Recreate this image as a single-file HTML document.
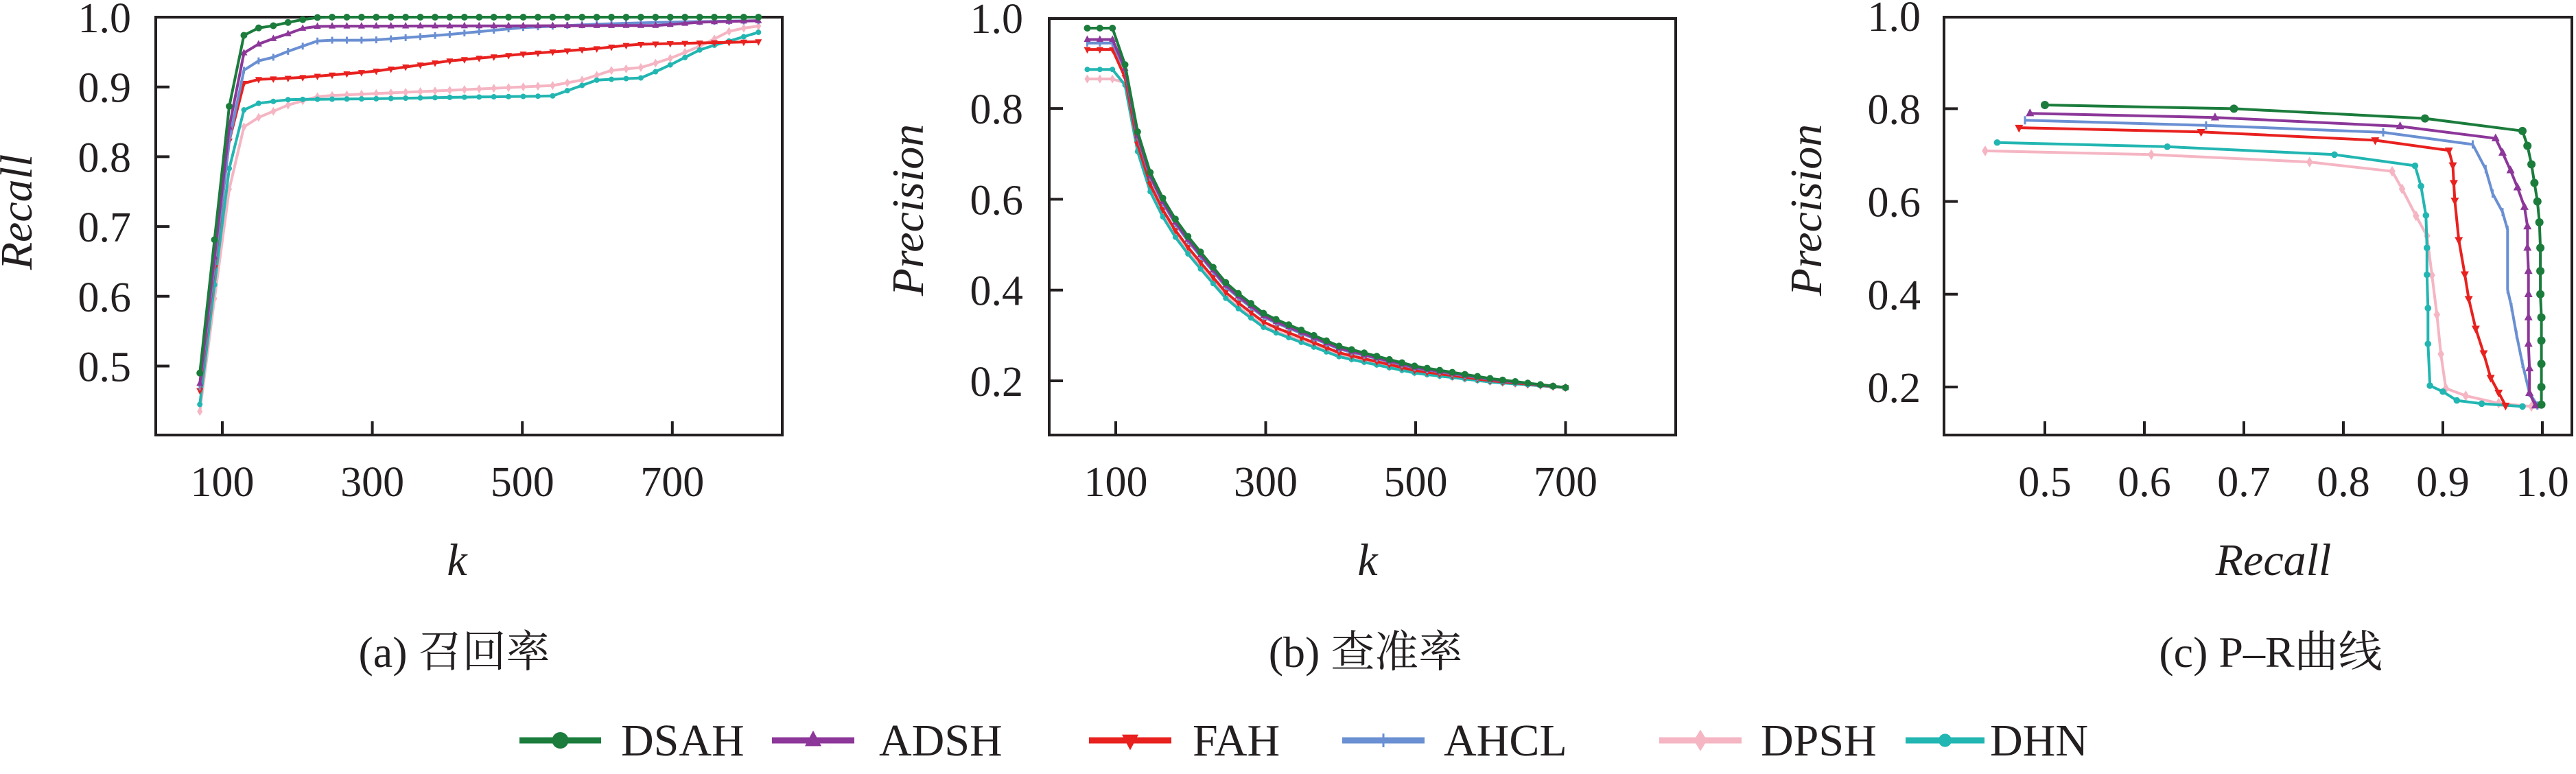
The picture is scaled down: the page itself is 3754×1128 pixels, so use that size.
<!DOCTYPE html>
<html><head><meta charset="utf-8"><style>
html,body{margin:0;padding:0;background:#fff;}
svg{display:block;}
svg text{font-family:'Liberation Serif','Tinos','Times New Roman','DejaVu Serif','Noto Serif CJK SC',serif;fill:#231f20;}
</style></head><body>
<svg id="s" width="3754" height="1128" viewBox="0 0 3754 1128" xmlns="http://www.w3.org/2000/svg"></svg>
<script>
var S=document.getElementById('s');var out='';
var FF="style=\"font-family:'Liberation Serif','Tinos','Times New Roman','DejaVu Serif','Noto Serif CJK SC',serif\" ";
var C={DSAH:'#1b7c3c',ADSH:'#8c3799',FAH:'#e8211f',AHCL:'#6a8fd2',DPSH:'#f5b5c3',DHN:'#22b6b2'};
var M={DSAH:'c',ADSH:'tu',FAH:'td',AHCL:'p',DPSH:'d',DHN:'st'};
function mk(t,x,y,r,c){
 if(t=='c')return '<circle cx="'+x+'" cy="'+y+'" r="'+r+'" fill="'+c+'"/>';
 if(t=='tu')return '<polygon points="'+x+','+(y-r*1.2)+' '+(x-r)+','+(y+r*0.7)+' '+(x+r)+','+(y+r*0.7)+'" fill="'+c+'"/>';
 if(t=='td')return '<polygon points="'+x+','+(y+r*1.2)+' '+(x-r)+','+(y-r*0.7)+' '+(x+r)+','+(y-r*0.7)+'" fill="'+c+'"/>';
 if(t=='p')return '<path d="M'+x+','+(y-r)+'V'+(y+r)+'" stroke="'+c+'" stroke-width="3"/>';
 if(t=='d')return '<polygon points="'+x+','+(y-r*1.3)+' '+(x+r*0.8)+','+y+' '+x+','+(y+r*1.3)+' '+(x-r*0.8)+','+y+'" fill="'+c+'"/>';
 return '<circle cx="'+x+'" cy="'+y+'" r="'+(r*0.8)+'" fill="'+c+'"/>';
}
function T(x,y,size,txt,anchor,extra){return '<text '+FF+'x="'+x+'" y="'+y+'" font-size="'+size+'" text-anchor="'+(anchor||'start')+'" fill="#231f20" '+(extra||'')+'>'+txt+'</text>';}
function interp(a,x){if(x<=a[0][0])return a[0][1];for(var i=1;i<a.length;i++){if(x<=a[i][0]){var t=(x-a[i-1][0])/(a[i][0]-a[i-1][0]);return a[i-1][1]+t*(a[i][1]-a[i-1][1]);}}return a[a.length-1][1];}
function series(pts,name,r){var c=C[name];var d='';pts.forEach(function(p,i){d+=(i?'L':'M')+p[0].toFixed(1)+','+p[1].toFixed(1);});
 var s='<path d="'+d+'" fill="none" stroke="'+c+'" stroke-width="4" stroke-linejoin="round"/>';
 pts.forEach(function(p){s+=mk(M[name],p[0],p[1],r||6,c);});return s;}
function frame(x0,x1,y0,y1){return '<rect x="'+x0+'" y="'+y0+'" width="'+(x1-x0)+'" height="'+(y1-y0)+'" fill="none" stroke="#231f20" stroke-width="4"/>';}
var order=['DPSH','DHN','FAH','AHCL','ADSH','DSAH'];
// Panel a
var ax=function(k){return 324+(k-100)*1.093;},ay=function(v){return 25+(1-v)*1017;};
out+=frame(227,1140,25,634);
[0.9,0.8,0.7,0.6,0.5].forEach(function(v){out+='<line x1="227" x2="247" y1="'+ay(v)+'" y2="'+ay(v)+'" stroke="#231f20" stroke-width="4"/>';});
[1.0,0.9,0.8,0.7,0.6,0.5].forEach(function(v){out+=T(191,ay(v)+22,62,v.toFixed(1),'end');});
[100,300,500,700].forEach(function(k){out+='<line x1="'+ax(k)+'" x2="'+ax(k)+'" y1="634" y2="614" stroke="#231f20" stroke-width="4"/>'+T(ax(k),723,62,k,'middle');});
var RA={
DSAH:[[70,.49],[90,.685],[110,.88],[130,.98],[150,.985],[170,.988],[190,.993],[210,.997],[230,1],[820,1]],
ADSH:[[70,.475],[90,.66],[110,.85],[130,.955],[150,.962],[170,.97],[190,.977],[210,.985],[230,.987],[680,.988],[740,.993],[820,.995]],
AHCL:[[70,.47],[90,.65],[110,.83],[130,.93],[150,.938],[170,.943],[190,.952],[230,.967],[300,.967],[400,.975],[500,.985],[600,.99],[700,.993],[820,.995]],
FAH:[[70,.465],[90,.645],[110,.83],[130,.91],[200,.913],[300,.922],[400,.937],[500,.947],[600,.955],[650,.961],[820,.965]],
DPSH:[[70,.435],[90,.6],[110,.76],[130,.848],[150,.857],[170,.866],[190,.875],[230,.887],[400,.895],[540,.902],[580,.91],[620,.924],[660,.928],[700,.942],[740,.96],[780,.982],[820,.988]],
DHN:[[70,.445],[90,.62],[110,.79],[130,.872],[150,.877],[190,.882],[300,.883],[400,.885],[540,.887],[600,.91],[660,.913],[700,.933],[740,.955],[780,.967],[820,.98]]};
order.forEach(function(n){var p=[];for(var k=70;k<=815;k+=19.6){p.push([ax(k),ay(interp(RA[n],k))]);}out+=series(p,n,5);});
out+=T(24,309,66,'Recall','middle','font-style="italic" transform="rotate(-90 24 309)" dy="22"');
out+=T(666,838,66,'k','middle','font-style="italic"');
out+=T(662,972,64,'(a) 召回率','middle');
// Panel b
var bx=function(k){return 1626+(k-100)*1.0925;},by=function(v){return 555-(v-0.2)*661.5;};
out+=frame(1529,2442,27,634);
[0.8,0.6,0.4,0.2].forEach(function(v){out+='<line x1="1529" x2="1549" y1="'+by(v)+'" y2="'+by(v)+'" stroke="#231f20" stroke-width="4"/>';});
[1.0,0.8,0.6,0.4,0.2].forEach(function(v){out+=T(1491,by(v)+22,62,v.toFixed(1),'end');});
[100,300,500,700].forEach(function(k){out+='<line x1="'+bx(k)+'" x2="'+bx(k)+'" y1="634" y2="614" stroke="#231f20" stroke-width="4"/>'+T(bx(k),723,62,k,'middle');});
var F=[[98,.98],[112,.90],[125,.775],[140,.68],[160,.61],[180,.555],[200,.51],[250,.41],[300,.345],[400,.275],[500,.232],[600,.205],[700,.185]];
var P0={DSAH:.977,ADSH:.952,AHCL:.944,FAH:.93,DHN:.886,DPSH:.865};
var D={DSAH:0,ADSH:.008,AHCL:.012,FAH:.028,DPSH:.04,DHN:.045};
order.forEach(function(n){var p=[];for(var i=0;i<=38;i++){var k=62+i*(638/38);var v;
 if(k<=98)v=P0[n];else{var fade=Math.max(0,1-(k-112)/588);var f=interp(F,k)-D[n]*(k<112?1:fade);
  if(k<112){var t=(k-98)/14;v=P0[n]+t*(interp(F,112)-D[n]-P0[n]);}else v=f;}
 p.push([bx(k),by(v)]);}out+=series(p,n,5);});
out+=T(1323,306,66,'Precision','middle','font-style="italic" transform="rotate(-90 1323 306)" dy="22"');
out+=T(1993,838,66,'k','middle','font-style="italic"');
out+=T(1990,972,64,'(b) 查准率','middle');
// Panel c
var cx=function(r){return 2980+(r-0.5)*1450;},cy=function(v){return 564-(v-0.2)*676;};
out+=frame(2833,3748,25,634);
[0.8,0.6,0.4,0.2].forEach(function(v){out+='<line x1="2833" x2="2853" y1="'+cy(v)+'" y2="'+cy(v)+'" stroke="#231f20" stroke-width="4"/>';});
[1.0,0.8,0.6,0.4,0.2].forEach(function(v){out+=T(2799,cy(v)+22,62,v.toFixed(1),'end');});
[0.5,0.6,0.7,0.8,0.9,1.0].forEach(function(r){out+='<line x1="'+cx(r)+'" x2="'+cx(r)+'" y1="634" y2="614" stroke="#231f20" stroke-width="4"/>'+T(cx(r),723,62,r.toFixed(1),'middle');});
var PR={
DSAH:[[.5,.808],[.69,.8],[.882,.779],[.98,.752],[.985,.72],[.989,.68],[.992,.64],[.995,.6],[.997,.555],[.998,.5],[.998,.45],[.998,.4],[.999,.35],[.999,.3],[.999,.25],[.999,.2],[.999,.162]],
ADSH:[[.485,.79],[.671,.781],[.857,.762],[.953,.736],[.96,.705],[.968,.667],[.975,.63],[.982,.588],[.985,.546],[.985,.5],[.986,.45],[.986,.4],[.986,.35],[.986,.293],[.987,.24],[.987,.187],[.993,.16]],
AHCL:[[.48,.775],[.662,.764],[.84,.749],[.93,.723],[.943,.67],[.95,.617],[.96,.577],[.965,.539],[.965,.47],[.965,.41],[.969,.372],[.974,.313],[.98,.25],[.987,.187],[.995,.16]],
FAH:[[.474,.759],[.657,.75],[.832,.732],[.906,.71],[.91,.678],[.911,.64],[.912,.602],[.916,.517],[.922,.443],[.926,.39],[.933,.326],[.941,.273],[.948,.22],[.956,.188],[.963,.16]],
DHN:[[.452,.727],[.623,.718],[.791,.701],[.872,.677],[.878,.633],[.883,.57],[.884,.5],[.884,.442],[.885,.37],[.885,.293],[.887,.203],[.9,.19],[.914,.171],[.939,.164],[.98,.158]],
DPSH:[[.44,.709],[.607,.701],[.766,.685],[.849,.665],[.859,.627],[.873,.569],[.884,.526],[.889,.441],[.894,.356],[.898,.271],[.903,.197],[.923,.181],[.956,.165],[.989,.158]]};
order.forEach(function(n){var p=PR[n].map(function(q){return [cx(q[0]),cy(q[1])];});out+=series(p,n,6);});
out+=T(2632,306,66,'Precision','middle','font-style="italic" transform="rotate(-90 2632 306)" dy="22"');
out+=T(3313,838,66,'Recall','middle','font-style="italic"');
out+=T(3309,972,64,'(c) P–R曲线','middle');
// Legend
var L=[['DSAH',757,876,905],['ADSH',1125,1245,1281],['FAH',1587,1707,1738],['AHCL',1956,2076,2104],['DPSH',2418,2538,2566],['DHN',2777,2892,2900]];
L.forEach(function(l){var c=C[l[0]];out+='<line x1="'+l[1]+'" x2="'+l[2]+'" y1="1079" y2="1079" stroke="'+c+'" stroke-width="9"/>';
 out+=mk(M[l[0]],(l[1]+l[2])/2,1079,l[0]=='AHCL'?10:12,c);
 out+=T(l[3],1101,66,l[0],'start');});
S.innerHTML=out;
</script>
</body></html>
